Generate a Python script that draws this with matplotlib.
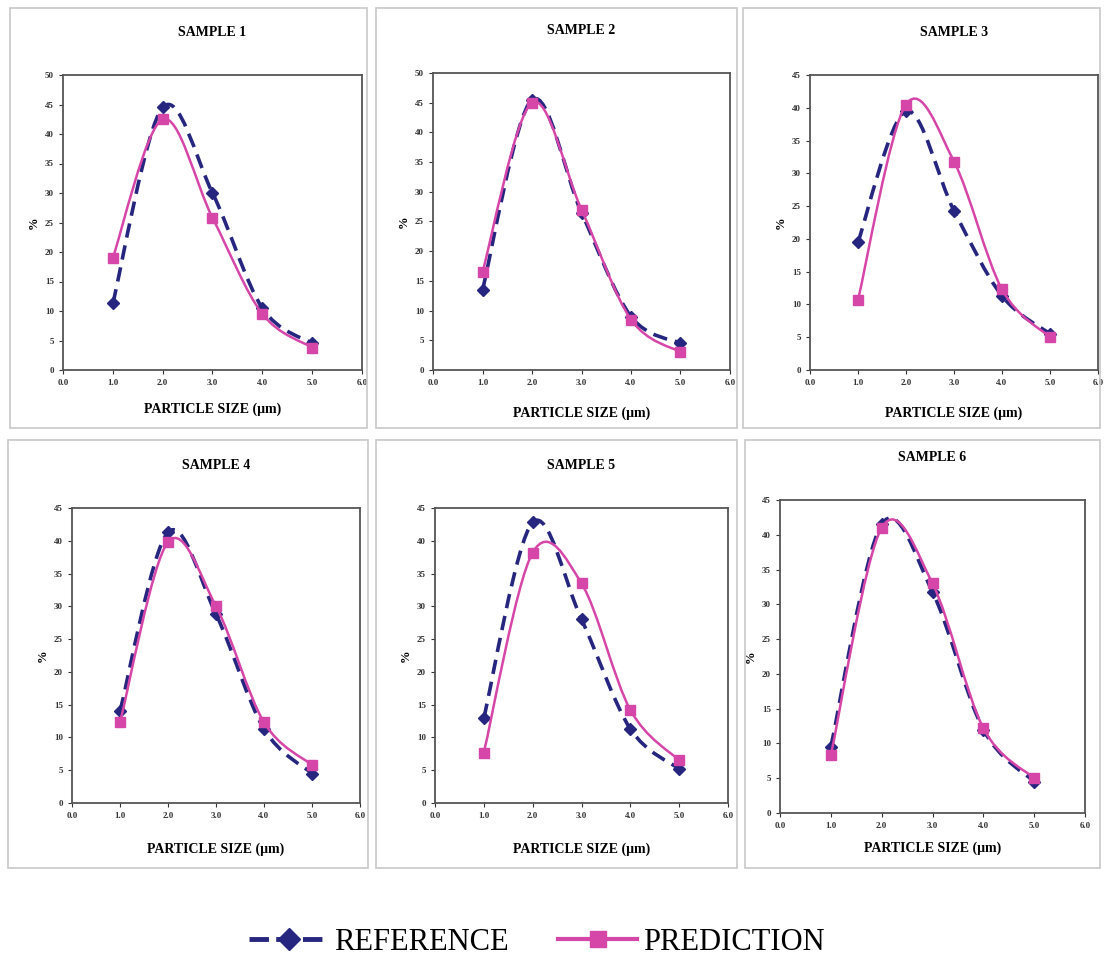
import numpy as np
import matplotlib
matplotlib.use('Agg')
import matplotlib.pyplot as plt
from matplotlib.path import Path
from matplotlib.patches import PathPatch, Rectangle
from matplotlib.lines import Line2D

plt.rcParams['font.family'] = ['Liberation Serif', 'DejaVu Serif']

# particle size (um)
size = [1.0, 2.0, 3.0, 4.0, 5.0]

samples = ['SAMPLE 1', 'SAMPLE 2', 'SAMPLE 3', 'SAMPLE 4', 'SAMPLE 5', 'SAMPLE 6']

ref1 = [11.3, 44.5, 30.0, 10.5, 4.5]
ref2 = [13.5, 45.5, 26.5, 9.0, 4.5]
ref3 = [19.5, 39.5, 24.3, 11.3, 5.5]
ref4 = [14.0, 41.3, 28.8, 11.3, 4.5]
ref5 = [13.0, 42.8, 28.0, 11.3, 5.2]
ref6 = [9.5, 41.5, 31.8, 12.0, 4.5]

pred1 = [19.0, 42.5, 25.8, 9.5, 3.8]
pred2 = [16.5, 45.0, 27.0, 8.5, 3.0]
pred3 = [10.7, 40.5, 31.8, 12.3, 5.0]
pred4 = [12.3, 39.8, 30.0, 12.3, 5.8]
pred5 = [7.7, 38.2, 33.5, 14.2, 6.5]
pred6 = [8.3, 41.0, 33.0, 12.2, 5.0]

ymax = [50, 50, 45, 45, 45, 45]

refs = [ref1, ref2, ref3, ref4, ref5, ref6]
preds = [pred1, pred2, pred3, pred4, pred5, pred6]

REF_C = '#262680'
PRED_C = '#D645A8'

W, H = 1104, 957
fig = plt.figure(figsize=(W / 100, H / 100), dpi=100)

# axes boxes in pixels: left, top, right, bottom
boxes = [(63, 75, 362, 370), (433, 73, 730, 370), (810, 75, 1098, 370),
         (72, 508, 360, 803), (435, 508, 728, 803), (780, 500, 1085, 813)]
frames = [(10, 8, 367, 428), (376, 8, 737, 428), (743, 8, 1100, 428),
          (8, 440, 368, 868), (376, 440, 737, 868), (745, 440, 1100, 868)]
xpad = [11, 14, 14, 16, 16, 8]


def smooth_path(xs, ys, xr, yr):
    # excel-like smoothed line: cubic bezier segments through the points
    px = np.asarray(xs) / xr
    py = np.asarray(ys) / yr
    n = len(px)
    verts = [(px[0], py[0])]
    codes = [Path.MOVETO]
    for i in range(n - 1):
        i0 = max(i - 1, 0)
        i3 = min(i + 2, n - 1)
        c1 = (px[i] + (px[i + 1] - px[i0]) / 6, py[i] + (py[i + 1] - py[i0]) / 6)
        c2 = (px[i + 1] - (px[i3] - px[i]) / 6, py[i + 1] - (py[i3] - py[i]) / 6)
        verts += [c1, c2, (px[i + 1], py[i + 1])]
        codes += [Path.CURVE4] * 3
    verts = [(vx * xr, vy * yr) for vx, vy in verts]
    return Path(verts, codes)


for k in range(6):
    fl, ft, fr, fb = frames[k]
    fig.patches.append(Rectangle((fl / W, 1 - fb / H), (fr - fl) / W, (fb - ft) / H,
                                 transform=fig.transFigure, fill=False,
                                 edgecolor='#c8c8c8', linewidth=1.2))
    l, t, r, b = boxes[k]
    ax = fig.add_axes([l / W, 1 - b / H, (r - l) / W, (b - t) / H])
    ax.set_xlim(0, 6)
    ax.set_ylim(0, ymax[k])
    ax.set_xticks(np.arange(0, 6.1, 1.0))
    ax.set_xticklabels(['%.1f' % v for v in np.arange(0, 6.1, 1.0)])
    ax.set_yticks(np.arange(0, ymax[k] + 1, 5))
    ax.tick_params(labelsize=6.5, length=3, direction='out', width=0.8, colors='#333333')
    for lab in ax.get_xticklabels() + ax.get_yticklabels():
        lab.set_fontweight('bold')
    for sp in ax.spines.values():
        sp.set_color('#555555')
        sp.set_linewidth(1.3)

    p = smooth_path(size, refs[k], 6, ymax[k])
    ax.add_patch(PathPatch(p, fill=False, edgecolor=REF_C, linewidth=2.6,
                           linestyle=(0, (4, 2.2)), zorder=3))
    ax.plot(size, refs[k], linestyle='none', marker='D', markersize=6.5,
            color=REF_C, zorder=4)
    p = smooth_path(size, preds[k], 6, ymax[k])
    ax.add_patch(PathPatch(p, fill=False, edgecolor=PRED_C, linewidth=1.8, zorder=5))
    ax.plot(size, preds[k], linestyle='none', marker='s', markersize=6.5,
            color=PRED_C, zorder=6)

    ax.set_title(samples[k], fontsize=10, fontweight='bold', pad=28)
    ax.set_xlabel('PARTICLE SIZE (\u03bcm)', fontsize=10, fontweight='bold',
                  labelpad=xpad[k])
    ax.set_ylabel('%', fontsize=9, fontweight='bold', labelpad=4)

handles = [Line2D([], [], color=REF_C, linestyle=(0, (4, 1.5)), linewidth=3.5,
                  marker='D', markersize=11),
           Line2D([], [], color=PRED_C, linewidth=3, marker='s', markersize=12)]
fig.legend(handles, ['REFERENCE', 'PREDICTION'], loc='center',
           bbox_to_anchor=(537 / W, 1 - 942 / H), ncol=2, frameon=False,
           fontsize=22, handlelength=2.6, handletextpad=0.2, columnspacing=1.6)

fig.savefig('out.png', dpi=100)
